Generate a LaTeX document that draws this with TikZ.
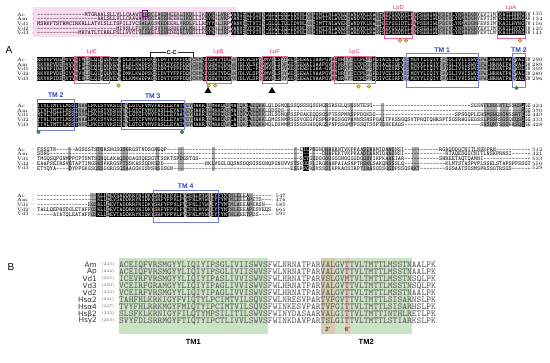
\documentclass[tikz,border=0pt]{standalone}
\usepackage{fontspec}
\setsansfont{Liberation Sans}
\newfontfamily\namefont{DejaVu Sans}
\usetikzlibrary{positioning, fit, shapes.geometric}
\definecolor{lpred}{HTML}{D8326A}
\definecolor{lppink}{HTML}{E0689A}
\definecolor{tmblue}{HTML}{2B3FC8}
\definecolor{sigpink}{HTML}{FADCF2}
\definecolor{alngray}{HTML}{A8A8A8}
\definecolor{tagyellow}{HTML}{E9C535}
\definecolor{tagedge}{HTML}{8C7415}
\definecolor{taggreen}{HTML}{3F9E4A}
\definecolor{tmgreen}{HTML}{CCE2C4}
\definecolor{postan}{HTML}{D5CBAE}
\definecolor{posred}{HTML}{F0BFB4}
\definecolor{bseqgray}{HTML}{555555}

\newcommand\seqfont{\ttfamily\fontsize{5.96}{6}\selectfont}
\newcommand\bseqfont{\ttfamily\fontsize{9.14}{10}\selectfont}
\newcommand\gp[1]{\foreach\k in {1,...,#1}{-}}
\def\alnx{37}     % left edge of the alignment
\def\alncw{3.129} % column width, 0.525em of \seqfont
\def\bcw{4.8}     % column width, 0.525em of \bseqfont
\def\alnrs{4.7}
\def\alnrh{2.4}
\def\alnbl{1.8}

% one block of the alignment: #1 id, #2 y of first row, #3 columns,
% #4 black column runs, #5 gray column runs, #6 name/sequence/end rows
\newcommand\alnblock[6]{%
  \foreach \ca/\cb in {#5}
    \fill[alngray] ({\alnx+\ca*\alncw},{#2-\alnrh}) rectangle ({\alnx+(\cb+1)*\alncw},{#2+4*\alnrs+\alnrh});
  \foreach \rname/\rseq/\rend [count=\i from 0] in {#6} {
    \node[rowname] (#1n\i) at (17,{#2+\i*\alnrs}) {\rname};
    \node[rowname] (#1c\i) at (32,{#2+\i*\alnrs}) {:};
    \node[seq] (#1s\i) at (\alnx,{#2+\i*\alnrs+\alnbl}) {\rseq};
    \node[rowname] (#1e\i) at ({\alnx+#3*\alncw+2.5},{#2+\i*\alnrs}) {:~\rend};
  }
  \foreach \ca/\cb in {#4}
    \fill[black] ({\alnx+\ca*\alncw},{#2-\alnrh}) rectangle ({\alnx+(\cb+1)*\alncw},{#2+4*\alnrs+\alnrh});
  \begin{scope}
    \clip \foreach \ca/\cb in {#4} {({\alnx+\ca*\alncw},{#2-\alnrh}) rectangle ({\alnx+(\cb+1)*\alncw},{#2+4*\alnrs+\alnrh})};
    \foreach \rname/\rseq/\rend [count=\i from 0] in {#6}
      \node[seq, text=white] (#1w\i) at (\alnx,{#2+\i*\alnrs+\alnbl}) {\rseq};
  \end{scope}
}

\begin{document}
\begin{tikzpicture}[x=1pt, y=-1pt,
    seq/.style     ={anchor=base west, inner sep=0pt, font=\seqfont},
    rowname/.style ={anchor=west, inner sep=0pt, font=\rmfamily\fontsize{5}{5}\selectfont},
    lpframe/.style ={draw=lppink, line width=0.6pt, inner sep=0pt},
    lptext/.style  ={font=\sffamily\fontsize{5.8}{6}\selectfont, text=lpred, inner sep=0.6pt},
    tmframe/.style ={draw=tmblue!65, line width=0.5pt, inner sep=0pt},
    tmtext/.style  ={font=\sffamily\bfseries\fontsize{6.8}{7}\selectfont, text=tmblue, inner sep=0.6pt},
    lptag/.style   ={circle, fill=tagyellow, draw=tagedge, line width=0.3pt, inner sep=0pt, minimum size=3.6pt},
    gtag/.style    ={lptag, fill=taggreen, draw=taggreen!60!black},
    site/.style    ={regular polygon, regular polygon sides=3, fill=black, inner sep=0pt, minimum size=8pt},
    cctext/.style  ={font=\sffamily\bfseries\fontsize{5.6}{6}\selectfont, inner sep=1pt},
    ccline/.style  ={draw=black!85, line width=0.5pt},
    panel/.style   ={font=\sffamily\fontsize{10}{10}\selectfont, inner sep=0pt},
    bname/.style   ={anchor=east, inner sep=0pt, font=\namefont\fontsize{7.3}{8}\selectfont, text=black!80},
    bnum/.style    ={anchor=west, inner sep=0pt, font=\rmfamily\fontsize{4}{4}\selectfont, text=black!65},
    bseq/.style    ={anchor=base west, inner sep=0pt, font=\bseqfont, text=bseqgray},
    prime/.style   ={font=\sffamily\bfseries\fontsize{6}{6}\selectfont, text=black!70, inner sep=0pt},
    tmlbl/.style   ={font=\sffamily\bfseries\fontsize{7.5}{8}\selectfont, inner sep=0pt}
  ]
  \useasboundingbox (0,0) rectangle (550,363);

  %% --- Panel A, block 1 ----------------------------------------------
  \fill[sigpink] (33,7) rectangle (236,37.5);
  \alnblock{ba}{14.3}{156}
    {54/56,62/65,67/71,73/85,89/98,100/107,110/119,121/127,133/135,147/155}
    {33/36,39/41,46/49,58/60,66/66,72/72,86/88,99/99,108/109,120/120,128/132,136/140}
    {Ac/\gp{15}MTGRAALSLLVLLCAAWTVPSCEAGSHEERLIKDLLIKNYNRLVRPVANISETVTVKLGLQLSQLIDVNLKNQVMTTNLWVEQEWNDYKLKWNPEEYGGVDTLHVPSEHIWLPDIVLYNNADGNYEVTIMTKAILHHNGKV/135,
     Am/\gp{19}AALSLLVLLCAAWAVPSGEAGSHEERLIKDLLIKNYNRLVRPVANISETVTVKLGLQLSQLIDVNLKNQVMTTNLWVEQEWNDYKLKWNPDEYGGVDTLHVPSEHIWLPDIVLYNNADGNYEVTIMTKAILHHNGRV/134,
     Vd1/MSRKFTSTRMCIRKRLLATVISLLTSPILIVCSALAGSNEDEERLVRDLFLLRNYYRLIRPVANVNETVTIKLGLQLTQLIDVNLKNQIMTTNLWVEHEWNDYKLKWNPEEYGGIDTLQVPSEHIWLPDIVLYNNADGNFEVSIMTKAILHYNGTV/156,
     Vd2/\gp{25}MIVSLLFLVSLFSVVNGSDEEKLMRLLRNYNRLIRPVANVSDTVTVKLGLQLTQLIDVNLRNQIMTTNLWVEHEWNDYKLKWNPAEYGGIDTLHVPSEHIWLPDIVLYNNADGNYEVTIMTKAILHYTGKV/125,
     Vd3/\gp{13}MRTATLTIRRLFSLLVVCIVLSAGLSSNEDEQRLVRDLLKNYNKLIRPVVNVSETVTVKLGLQLTQLIDVNLKNQIMTTNLWVEQEWHDYKLKWDPSEYGGVDTLHVPSEHIWLPDIVLYNNADGNYEVTLMTKAILHYNGKV/141}
  \node[draw=violet, line width=0.5pt, minimum width=5pt, minimum height=6.5pt, inner sep=0pt] (pbox) at (144.3,13.2) {};
  \node[lpframe, fit={({\alnx+111*\alncw},11.5) ({\alnx+120*\alncw},38)}] (lpDbox) {};
  \node[lptext, above=0pt of lpDbox] (lpD) {LpD};
  \node[lpframe, fit={({\alnx+147*\alncw},11.5) ({\alnx+156*\alncw},38)}] (lpAbox) {};
  \node[lptext, above=0pt of lpAbox] (lpA) {LpA};
  \node[lptag] (ya1) at (400,40.5) {};
  \node[lptag] (ya2) at (406,40.5) {};
  \node[lptag] (ya3) at (520,40.5) {};

  %% --- Panel A, block 2 ----------------------------------------------
  \node[panel] (pA) at (9,50) {A};
  \alnblock{bb}{59.7}{156}
    {0/7,9/11,13/14,17/19,21/25,27/36,38/48,53/61,64/70,72/74,76/77,80/81,83/93,96/97,101/104,107/116,119/128,131/140,144/151,153/155}
    {8/8,12/12,15/16,20/20,26/26,37/37,49/52,62/63,71/71,75/75,78/79,82/82,94/95,98/100,105/106,117/118,129/130,141/143,152/152}
    {Ac/RKVKPVDEDVVVNIVLSLQIVQLVEWNDLKLKWDPSCSIDVTYFPFDQQCKMKFGSWTYDGAKVDLVLSPDQMVDLSDYWESGEWAIIAAPGVRNNRIYTCCPEPYPDIACEIQFVRSMGYYLIQIYIPSGLIVIISWVSFWLNRNATPARVALGV/290,
     Am/RKVRPVDEDVVVNIVLSLQIVQLVEWNDLKLKWDPSCSIDVTYFPFDQQCKMKFGSWTYDGAKVDLVLSPDQMVDLSDFWESGEWAIIAAPGVRNNRIYTCCPEPYPDIACEIQFVRSMGYYLIQIYIPSGLIVIISWVSFWLNRNATPARVALGV/289,
     Vd1/RNVKPIDEEVTVNIALSLQIVQLVEWNDMKLKWNPSCSIDVTYFPFDEQCKMKFGSWTYDGSKIDLVL-PEQMVDLSDYWESGEWSIIAA-GVRNDRKYTCCAEPYPDIICEVRFVRSMGYYLIQIYIPASLIVVISWVSFWLHRNATPARVSLGV/309,
     Vd2/RKVKPVDEDIVVNVVLSLQIVQLVEWNDMKLKWDPSCSIDVTYFPFDQQCKMKFGSWTYDGAKVDLVLSPDQMVDLSDYWESGEWAIVAAPGVRNNRIYTCCPEPYPDIVCEIRFVRSMGYYLIQIYIPAGLIVVISWVSFWLHRNATPARVALGV/280,
     Vd3/RKVKPIDEEVTVNIVLSLQIVQLVEWNDLKMKWDPACSIDVTYFPFDQQCKMKFGSWTYDGVKVDLVLSPDSMVDLSDYWESGEWAIVAAPGVRNNRLYTCCPEPYPDIVCEIRFGRAMGYYLIQIYIPAGLIVVISWVSFWLHRNATPARVALGV/296}
  \node[lpframe, fit={({\alnx+12*\alncw},56) ({\alnx+23*\alncw},83.5)}] (lpEbox) {};
  \node[lptext, above=0pt of lpEbox] (lpE) {LpE};
  \node[lpframe, fit={({\alnx+54*\alncw},56) ({\alnx+62*\alncw},83.5)}] (lpBbox) {};
  \node[lptext, above=0pt of lpBbox] (lpB) {LpB};
  \node[lpframe, fit={({\alnx+72*\alncw},56) ({\alnx+80*\alncw},83.5)}] (lpFbox) {};
  \node[lptext, above=0pt of lpFbox] (lpF) {LpF};
  \node[lpframe, fit={({\alnx+95*\alncw},56) ({\alnx+108*\alncw},83.5)}] (lpCbox) {};
  \node[lptext, above=0pt of lpCbox] (lpC) {LpC};
  \node[tmframe, fit={({\alnx+118*\alncw},53.5) ({\alnx+141*\alncw},87)}] (tmAbox) {};
  \node[tmtext, above=0pt of tmAbox] (tmA) {TM 1};
  \node[tmframe, fit={({\alnx+152*\alncw},53.5) ({\alnx+156*\alncw},87)}] (tmBbox) {};
  \node[tmtext, above=0pt of tmBbox] (tmB) {TM 2};
  % disulfide bridge of the Cys loop
  \coordinate (ccl) at (150,58);
  \coordinate (ccr) at (193.5,58);
  \node[cctext, fill=white] (cc) at (171.7,52.5) {C-C};
  \draw[ccline] (ccl) |- (cc.west);
  \draw[ccline] (ccr) |- (cc.east);
  \node[lptag] (yb1) at (118.5,85.5) {};
  \node[lptag] (yb2) at (208.5,85.5) {};
  \node[lptag] (yb3) at (215,85.5) {};
  \node[lptag] (yb4) at (358.5,86.5) {};
  \node[lptag] (yb5) at (369,86.5) {};
  \node[gtag]  (gb1) at (516.5,88) {};
  \node[site] (siteB) at (208,91) {};
  \node[site] (siteF) at (272,91) {};

  %% --- Panel A, block 3 ----------------------------------------------
  \alnblock{bc}{105.7}{156}
    {0/12,16/27,29/46,50/53,56/59,62/63,67/67,155/155}
    {13/15,28/28,47/49,54/55,60/61,64/66,68/72,80/80,92/92,100/100,110/110,143/146,148/150,152/154}
    {Ac/TTVLTMTTLMSSTNAALPKISYVKSIDVYLGTCFVMVFASLLEYATVGYMAKRIQMRKQRFMAIQKIAEQKKLQLDGMQLSSQSSSQSGHGSSRSGLQSGSNTESG\gp{31}SGSNTESGSNTLSSGSQGG/424,
     Am/TTVLTMTTLMSSTNAALPKISYVKSIDVYLGTCFVMVFASLLEYATVGYMAKRIQMRKQRFMAIQKIAEQKKLQDSDG\gp{75}DGG/370,
     Vd1/MTVLTMTTLMSSTNSQLPKISYVKSIDIYLGTCFVMVFASLLEYAAVGYMAKRIQMRKQRFLAIQKVAEQKKLHLSGMQPSSPGAKEQQSGSPTSSPMRSPFDGKDG\gp{25}SPSGQPLEHSMSHQSGNSSRTEGG/440,
     Vd2/TTVLTMTTLMSSTNAALPKISYVKSIDIYLGTCFVMVFASLLEYATVGYMAKRIQMRKQRFLAIQKIAEQKKLQMGSNMPSGSVGEGPESPRPRGSGGPAMNSSNSPGAITPKSSGQSVTPRQTQHRSPTSGSRHGGEGSSLPSSRSGSQEQSDGG/433,
     Vd3/TTVLTMTTLMSSTNSQLPKISYVKSIDVYLGTCFVMVFASLLEYATVGYMAKRIQMRKQRFLAIQKIAEQKKMQLDSMMPSSSSSGHDQRGSPNPSSGMYPSSQTSSPTGNKEAGS\gp{24}SNSQMTSSGHRSQDGG/428}
  \node[tmframe, fit={(\alnx,99) ({\alnx+12*\alncw},130)}] (tmCbox) {};
  \node[tmtext, above=0pt of tmCbox] (tmC) {TM 2};
  \node[tmframe, fit={({\alnx+27*\alncw},100) ({\alnx+47*\alncw},129)}] (tmDbox) {};
  \node[tmtext, above=0pt of tmDbox] (tmD) {TM 3};
  \node[gtag] (gc1) at (38.5,132) {};
  \node[gtag] (gc2) at (182,132) {};

  %% --- Panel A, block 4 ----------------------------------------------
  \alnblock{bd}{149.5}{156}
    {85/86}
    {10/10,19/20,27/28,38/38,45/46,56/56,82/82,88/88,92/93,104/106,112/113,120/121}
    {Ac/FSSGTN\gp{6}AGSGSTSTGRSNGSGSGRGSTNDSGNGQP\gp{42}QILPGGNDHARRNTVKPKAASIARMIDAAGNSI\gp{11}RGAQDDGCNITLNSKPRN\gp{11}/512,
     Am/SDHG\gp{86}DHAFEKTVKPKAADIARMIDAAGNSI\gp{13}RTAQEDGGCNITLNSKPRNSI\gp{6}/421,
     Vd1/TMGQSQPGNMPPCPTSMTSGHQLAKAQSDGAGSQESGTTSSKTSPDGSTGS\gp{32}SCTGGDGGGGGGGNGGGGDGGSVIKPKAAEIAR\gp{11}SHREETAQTQAMNI\gp{15}/533,
     Vd2/EAAPSEIRSVGTAPTIMGSKSKKRGSPTSSKASSQDNSDD\gp{13}NKLVGGLGQSNSDQSGSGGNQPGNGVVSTSGGQSLIRGNAHPAIASNPTRSKLSAKQRSSSLQ\gp{13}KLMTSTASPVPLSSELSTAPSPPSSGT/550,
     Vd3/ETYQYA\gp{4}DYPPGKGSGSSGGRGSGSAAGGKGSNSRSGSGN\gp{37}ESGRPGRSVSSSIKPKAGSIRPTIRASGSSGGDPSSGSRKT\gp{8}SGSAATSGSMSPRSSGTRSGS\gp{6}/529}

  %% --- Panel A, block 5 ----------------------------------------------
  \alnblock{be}{195.5}{74}
    {19/21,23/46,48/54,56/60}
    {17/18,22/22,47/47,55/55,61/64,67/68}
    {Ac/\gp{19}KLLDEVSADDKRYNIDKYSRFYFPVLFVCFNLMYWMIYFYMTNLEEEA\gp{7}/547,
     Am/\gp{19}KLLDEVSADDKRYNIDKYSRFYFPVLFVCFNLMYWMIYFYMTNLEEEAPETS\gp{3}/476,
     Vd1/\gp{16}EGSRLLDEVTADDRRFNIDKYSRFYFPVLFVCFNLIYWLIYFYMTNLAEEAPERSN\gp{2}/585,
     Vd2/TALLQEPHSDGLETAFFGSKLLDEVTADDRRYNIDKYSRFYFPVLFVCFNLMYWMIYFYMTNLEEEAPESVEQS/661,
     Vd3/\gp{5}AIATQLEATAFFGSKLLDEVTADDKRYNIDKYSRFYFPVLFVCFNLMYWMIYFYMTNLEEETPDS\gp{4}/591}
  \node[tmframe, fit={({\alnx+37*\alncw},190) ({\alnx+58*\alncw},222)}] (tmEbox) {};
  \node[tmtext, above=0pt of tmEbox] (tmE) {TM 4};

  %% --- Panel B: TM1-TM2 -----------------------------------------------
  \node[panel] (pB) at (11,267) {B};
  \fill[tmgreen] (119,258) rectangle ({119+31*\bcw},334);
  \fill[tmgreen] ({119+42*\bcw},258) rectangle ({119+61*\bcw},334);
  \fill[postan] ({119+42*\bcw},258) rectangle ({119+45*\bcw},334);
  \fill[posred] ({119+47*\bcw},258) rectangle ({119+48.2*\bcw},334);
  \foreach \bn/\bp/\bs [count=\i from 0] in {
      Am/243/ACEIQFVRSMGYYLIQIYIPSGLIVIISWVSFWLNRNATPARVALGVTTVLTMTTLMSSTNAALPK,
      Ap/244/ACEIQFVRSMGYYLIQIYIPSGLIVIISWVSFWLNRNATPARVALGVTTVLTMTTLMSSTNAALPK,
      Vd1/263/ICEVRFVRSMGYYLIQIYIPASLIVVISWVSFWLHRNATPARVSLGVMTVLTMTTLMSSTNSQLPK,
      Vd3/250/VCEIRFGRAMGYYLIQIYIPAGLIVVISWVSFWLHRNATPARVALGVTTVLTMTTLMSSTNSQLPK,
      Vd2/234/VCEIRFVRSMGYYLIQIYIPAGLIVVISWVSFWLHRNATPARVALGVTTVLTMTTLMSSTNAALPK,
      Hsα2/241/TAHFHLKRKIGYFVIQTYLPCIMTVILSQVSFWLNRESVPARTVFGVTTVLTMTTLSISARNSLPK,
      Hsα4/247/TVYFHLRRKMGYFMIQTYIPCIMTVILSQVSFWINKESVPARTVFGITTVLTMTTLSISARHSLPK,
      Hsβ2/233/SLSFKLKRNIGYFILQTYMPSILITILSWVSFWINYDASAARVALGITTVLTMTTINTHLRETLPK,
      Hsγ2/263/SVYFDLSRRMGYFTIQTYIPCTLIVVLSWVSFWINKDAVPARTSLGITTVLTMTTLSTIARKSLPK} {
    \node[bname] (bn\i) at (97,{265+7*\i}) {\bn};
    \node[bnum]  (bp\i) at (101.5,{265+7*\i}) {(\bp)};
    \node[bseq]  (bs\i) at (119,{265+7*\i+2.8}) {\bs};
  }
  \node[prime] (ptwo) at ({119+43.5*\bcw},329.5) {2'};
  \node[prime] (psix) at ({119+47.6*\bcw},329.5) {6'};
  \node[tmlbl] (tmone) at ({119+15.5*\bcw},342) {TM1};
  \node[tmlbl] (tmtwo) at ({119+51.5*\bcw},342) {TM2};
\end{tikzpicture}
\end{document}
